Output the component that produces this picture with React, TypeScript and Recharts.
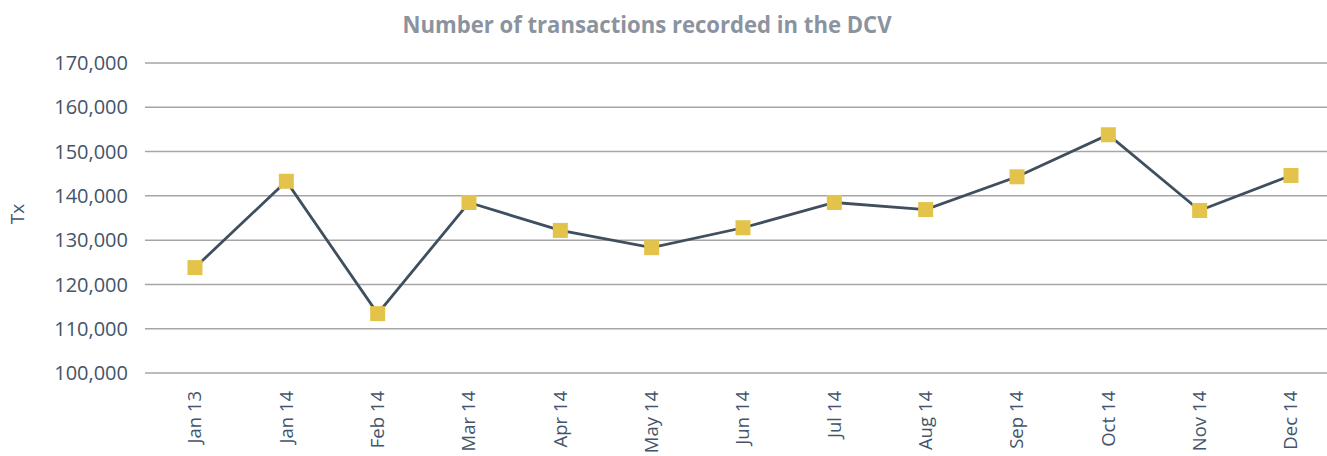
import { LineChart, Line, XAxis, YAxis, CartesianGrid } from 'recharts';

const months = ['Jan 13', 'Jan 14', 'Feb 14', 'Mar 14', 'Apr 14', 'May 14', 'Jun 14', 'Jul 14', 'Aug 14', 'Sep 14', 'Oct 14', 'Nov 14', 'Dec 14'];
const transactions = [123800, 143300, 113400, 138500, 132200, 128300, 132800, 138500, 136900, 144300, 153800, 136700, 144600];
const yTicks = [100000, 110000, 120000, 130000, 140000, 150000, 160000, 170000];

const chartData = months.map((month, i) => ({ month, tx: transactions[i] }));

const FONT = '"Open Sans", "Noto Sans", sans-serif';
const TEXT = '#44546a';

const MonthTick = (props: any) => {
  const { x, y, payload } = props;
  return (
    <text
      x={x}
      y={y + 10}
      dy="0.35em"
      transform={`rotate(-90, ${x}, ${y + 10})`}
      textAnchor="end"
      fill={TEXT}
      fontSize={18.5}
      fontFamily={FONT}
    >
      {payload.value}
    </text>
  );
};

const SquareDot = (props: any) => {
  const { cx, cy, index } = props;
  if (cx == null || cy == null) return null;
  return <rect key={`dot-${index}`} x={cx - 7.5} y={cy - 7.5} width={15} height={15} fill="#e3c34a" />;
};

export default function App() {
  return (
    <div style={{ position: 'absolute', left: 0, top: 0, width: 1327, height: 456, overflow: 'hidden', background: '#fff' }}>
      <svg width={1327} height={50} style={{ position: 'absolute', left: 0, top: 0 }}>
        <text
          x={647}
          y={33}
          textAnchor="middle"
          textLength={489}
          lengthAdjust="spacingAndGlyphs"
          fill="#8b939e"
          fontSize={24}
          fontWeight={700}
          fontFamily={FONT}
        >
          Number of transactions recorded in the DCV
        </text>
      </svg>
      <svg width={40} height={456} style={{ position: 'absolute', left: 0, top: 0 }}>
        <text
          x={17}
          y={214}
          dy="0.35em"
          transform="rotate(-90, 17, 214)"
          textAnchor="middle"
          fill={TEXT}
          fontSize={19}
          fontFamily={FONT}
        >
          Tx
        </text>
      </svg>
      <LineChart
        width={1327}
        height={456}
        data={chartData}
        margin={{ top: 63, right: 0, bottom: 0, left: 0 }}
      >
        <CartesianGrid vertical={false} stroke="#a6a6a6" strokeWidth={1.5} />
        <XAxis
          dataKey="month"
          height={83}
          padding={{ left: 50, right: 36 }}
          axisLine={false}
          tickLine={false}
          interval={0}
          tick={<MonthTick />}
        />
        <YAxis
          width={145}
          domain={[100000, 170000]}
          ticks={yTicks}
          axisLine={false}
          tickLine={false}
          tickSize={0}
          tickMargin={17}
          tickFormatter={(v: number) => v.toLocaleString('en-US')}
          tick={{ fill: TEXT, fontSize: 20, fontFamily: FONT }}
        />
        <Line
          type="linear"
          dataKey="tx"
          stroke="#3f4f5e"
          strokeWidth={2.8}
          dot={<SquareDot />}
          activeDot={false}
          isAnimationActive={false}
        />
      </LineChart>
    </div>
  );
}
